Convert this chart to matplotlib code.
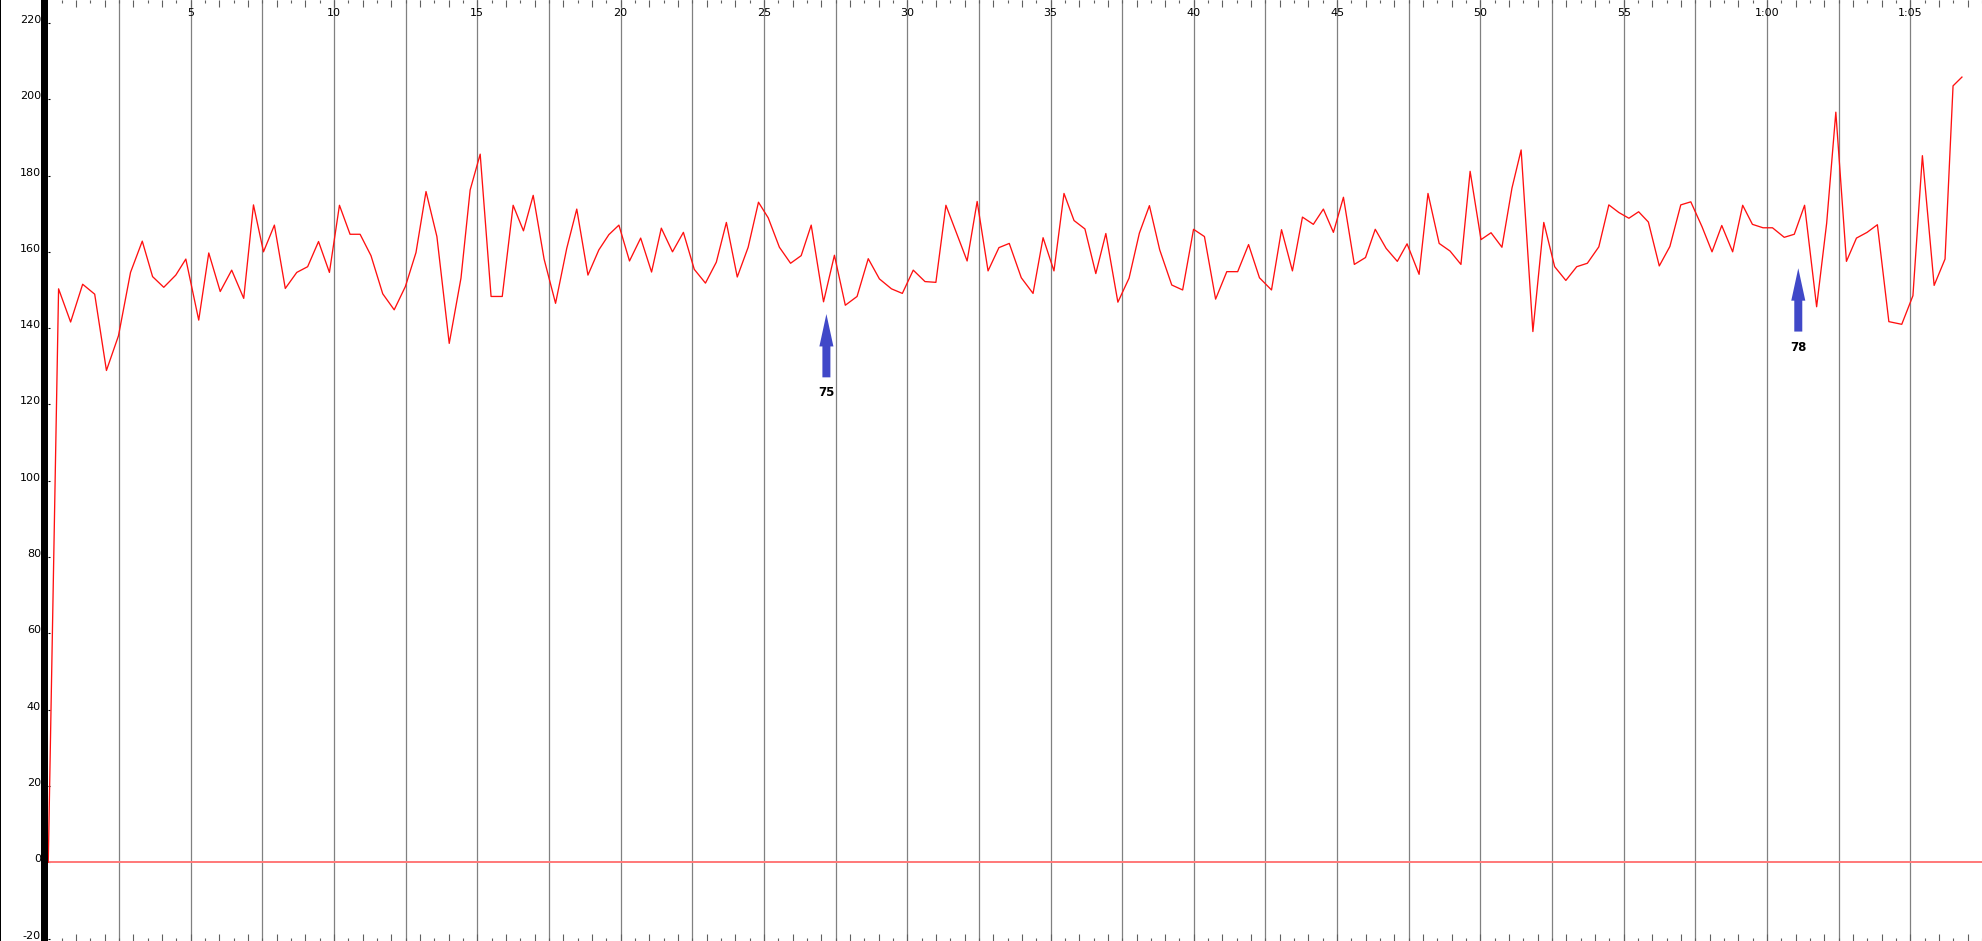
import matplotlib

matplotlib.use("Agg")

import numpy as np  # noqa: E402
from matplotlib import pyplot as plt  # noqa: E402
from matplotlib.patches import Rectangle  # noqa: E402

# heart rate trace, time in minutes
minutes = [
    0.03, 0.39, 0.81, 1.23, 1.65, 2.06, 2.48, 2.90, 3.31, 3.67,
    4.06, 4.48, 4.83, 5.28, 5.63, 6.03, 6.43, 6.85, 7.19, 7.54,
    7.92, 8.30, 8.70, 9.08, 9.46, 9.84, 10.19, 10.56, 10.91, 11.29,
    11.70, 12.10, 12.49, 12.86, 13.21, 13.59, 14.02, 14.43, 14.75, 15.10,
    15.48, 15.87, 16.25, 16.61, 16.95, 17.33, 17.73, 18.12, 18.47, 18.86,
    19.24, 19.59, 19.94, 20.31, 20.70, 21.08, 21.42, 21.81, 22.19, 22.57,
    22.96, 23.34, 23.69, 24.07, 24.45, 24.81, 25.15, 25.54, 25.93, 26.30,
    26.65, 27.08, 27.46, 27.84, 28.25, 28.64, 29.03, 29.45, 29.83, 30.21,
    30.62, 31.00, 31.35, 31.72, 32.09, 32.44, 32.82, 33.20, 33.56, 33.98,
    34.39, 34.74, 35.12, 35.47, 35.82, 36.20, 36.58, 36.93, 37.35, 37.74,
    38.10, 38.45, 38.81, 39.23, 39.61, 39.99, 40.37, 40.76, 41.15, 41.53,
    41.91, 42.29, 42.71, 43.06, 43.44, 43.79, 44.17, 44.52, 44.87, 45.22,
    45.60, 45.99, 46.33, 46.71, 47.10, 47.44, 47.86, 48.17, 48.56, 48.94,
    49.32, 49.64, 50.02, 50.37, 50.75, 51.10, 51.42, 51.83, 52.21, 52.59,
    52.98, 53.36, 53.73, 54.13, 54.48, 54.83, 55.18, 55.52, 55.86, 56.24,
    56.61, 56.99, 57.34, 57.73, 58.08, 58.42, 58.80, 59.15, 59.49, 59.86,
    60.19, 60.60, 60.95, 61.31, 61.73, 62.08, 62.40, 62.77, 63.12, 63.49,
    63.85, 64.25, 64.70, 65.09, 65.42, 65.83, 66.21, 66.49, 66.80,
]
bpm = [
    0.0, 150.3, 141.6, 151.5, 148.9, 128.9, 138.0, 154.6, 162.8, 153.5,
    150.7, 153.9, 158.1, 142.1, 159.7, 149.6, 155.2, 147.8, 172.3, 160.0,
    167.0, 150.4, 154.6, 156.1, 162.7, 154.6, 172.2, 164.6, 164.6, 159.0,
    149.0, 144.8, 150.9, 159.8, 175.8, 164.0, 136.0, 153.1, 176.2, 185.6,
    148.3, 148.3, 172.2, 165.5, 174.8, 158.1, 146.5, 160.9, 171.2, 153.9,
    160.5, 164.5, 167.0, 157.6, 163.6, 154.7, 166.2, 160.0, 165.1, 155.4,
    151.8, 157.3, 167.7, 153.4, 161.2, 173.0, 168.9, 161.2, 157.0, 159.0,
    167.0, 146.9, 159.1, 146.0, 148.3, 158.2, 152.9, 150.3, 149.1, 155.2,
    152.2, 152.0, 172.2, 164.9, 157.6, 173.2, 155.0, 161.1, 162.2, 153.2,
    149.1, 163.7, 155.0, 175.3, 168.2, 166.0, 154.3, 164.8, 146.8, 153.1,
    164.9, 172.1, 160.5, 151.3, 150.0, 165.9, 164.0, 147.6, 154.8, 154.8,
    161.9, 153.2, 150.0, 165.8, 155.0, 169.1, 167.2, 171.2, 165.1, 174.3,
    156.7, 158.5, 165.9, 160.9, 157.5, 162.1, 154.1, 175.3, 162.2, 160.2,
    156.7, 181.1, 163.2, 165.0, 161.2, 176.7, 186.7, 139.1, 167.7, 156.1,
    152.5, 156.1, 157.0, 161.3, 172.3, 170.3, 168.8, 170.5, 167.8, 156.3,
    161.4, 172.3, 173.1, 166.6, 160.0, 166.9, 160.0, 172.2, 167.2, 166.3,
    166.3, 163.8, 164.6, 172.2, 145.6, 167.5, 196.6, 157.5, 163.6, 165.1,
    167.1, 141.7, 141.0, 148.5, 185.2, 151.2, 158.1, 203.5, 205.8,
]

# event markers
marker_minutes = [27.18, 61.09]
marker_tips = [143.7, 155.7]
marker_labels = ["75", "78"]

y_ticks = list(range(-20, 221, 20))
x_tick_minutes = list(range(5, 66, 5))
x_tick_labels = ["5", "10", "15", "20", "25", "30", "35", "40", "45", "50",
                 "55", "1:00", "1:05"]

W, H, DPI = 1982, 941, 100
AX_LEFT = 48

fig = plt.figure(figsize=(W / DPI, H / DPI), dpi=DPI)
ax = fig.add_axes([AX_LEFT / W, 0, 1 - AX_LEFT / W, 1])

px_per_min = 28.72
x0_px = 47.4
ax.set_xlim((AX_LEFT - x0_px) / px_per_min, (W - x0_px) / px_per_min)
ax.set_ylim(-20.63, 226.0)

for spine in ax.spines.values():
    spine.set_visible(False)

for xv in np.arange(2.5, 67.5, 2.5):
    ax.axvline(xv, color="#808080", linewidth=0.9, zorder=1)

ax.axhline(0, color="#ff7878", linewidth=1.4, zorder=2)
ax.plot(minutes, bpm, color="#ff1010", linewidth=0.95, zorder=3)

arrow_len = 16.6
for xm, tip, lab in zip(marker_minutes, marker_tips, marker_labels):
    bottom = tip - arrow_len
    ax.arrow(xm, bottom, 0, arrow_len, width=0.279, head_width=0.49,
             head_length=8.5, length_includes_head=True,
             color="#4048c8", linewidth=0, zorder=4)
    ax.annotate(lab, xy=(xm, bottom), xytext=(0, -6.5),
                textcoords="offset points", ha="center", va="top",
                fontsize=8.5, fontweight="bold", color="black")

# time ticks along top and bottom
ax.set_xticks(np.arange(1, 68, 1))
ax.set_xticks(np.arange(0.5, 68, 1), minor=True)
ax.tick_params(axis="x", which="major", direction="in", length=5.0,
               width=0.8, color="#606060", top=True, bottom=True,
               labelbottom=False, labeltop=False)
ax.tick_params(axis="x", which="minor", direction="in", length=2.4,
               width=0.8, color="#606060", top=True, bottom=True)

ax.set_yticks(y_ticks)
ax.tick_params(axis="y", direction="in", length=1.5, width=0.8,
               color="black", labelleft=False)

ytrans = ax.get_yaxis_transform()
for yv in y_ticks:
    ax.text(-7 / (W - AX_LEFT), yv, str(yv), transform=ytrans,
            ha="right", va="baseline", fontsize=8, color="black",
            clip_on=False)

xtrans = ax.get_xaxis_transform()
for xm, lab in zip(x_tick_minutes, x_tick_labels):
    ax.text(xm, 1 - 13 / H, lab, transform=xtrans, ha="center",
            va="center", fontsize=8, color="black")

# thick left bar and thin border line
fig.add_artist(Rectangle((41 / W, 0), 7 / W, 1, transform=fig.transFigure,
                         color="black", linewidth=0))
fig.add_artist(Rectangle((0, 0), 1 / W, 1, transform=fig.transFigure,
                         color="black", linewidth=0))

fig.savefig("out.png", dpi=DPI)
plt.close(fig)
